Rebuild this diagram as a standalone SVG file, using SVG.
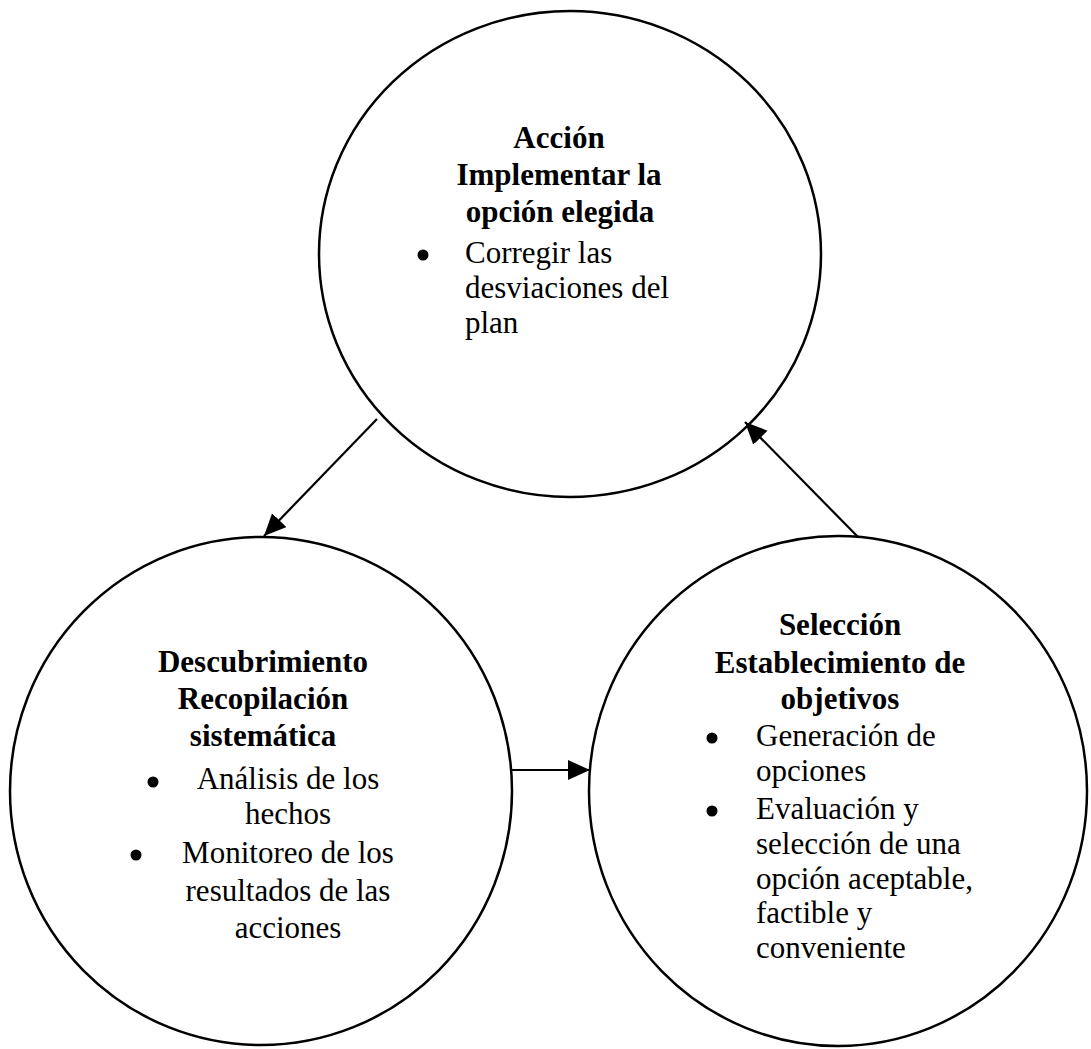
<svg xmlns="http://www.w3.org/2000/svg" width="1091" height="1049" viewBox="0 0 1091 1049">
<style>
.node{fill:#fff;stroke:#000;stroke-width:2.5}
.t{font-family:"Liberation Serif","Times New Roman",serif;font-size:31px;fill:#000}
.b{font-weight:bold;text-anchor:middle}
.c{text-anchor:middle}
.bul{fill:#000}
.conn{stroke:#000;stroke-width:2.2;fill:none;marker-end:url(#ah)}
</style>
<defs>
<marker id="ah" markerUnits="userSpaceOnUse" markerWidth="24" markerHeight="22" refX="22" refY="10" orient="auto">
<path d="M0,0 L22,10 L0,20 z" fill="#000"/>
</marker>
</defs>
<rect width="1091" height="1049" fill="#fff"/>
<g id="node-accion">
<ellipse class="node" cx="570" cy="254" rx="251" ry="243"/>
<text class="t b" x="559" y="148">Acción</text>
<text class="t b" x="559" y="185">Implementar la</text>
<text class="t b" x="560" y="222">opción elegida</text>
<circle class="bul" cx="423" cy="255" r="5.5"/>
<text class="t" x="465" y="263">Corregir las</text>
<text class="t" x="465" y="298">desviaciones del</text>
<text class="t" x="465" y="333">plan</text>
</g>
<g id="node-descubrimiento">
<ellipse class="node" cx="261" cy="791" rx="251" ry="254"/>
<text class="t b" x="263" y="672">Descubrimiento</text>
<text class="t b" x="263" y="709">Recopilación</text>
<text class="t b" x="263" y="746">sistemática</text>
<circle class="bul" cx="153" cy="782" r="5.5"/>
<text class="t c" x="288" y="789">Análisis de los</text>
<text class="t c" x="288" y="824">hechos</text>
<circle class="bul" cx="136" cy="855" r="5.5"/>
<text class="t c" x="288" y="863">Monitoreo de los</text>
<text class="t c" x="288" y="901">resultados de las</text>
<text class="t c" x="288" y="938">acciones</text>
</g>
<g id="node-seleccion">
<ellipse class="node" cx="838" cy="791" rx="249" ry="255"/>
<text class="t b" x="840" y="635">Selección</text>
<text class="t b" x="840" y="673">Establecimiento de</text>
<text class="t b" x="840" y="709">objetivos</text>
<circle class="bul" cx="712" cy="738" r="5.5"/>
<text class="t" x="756" y="746">Generación de</text>
<text class="t" x="756" y="781">opciones</text>
<circle class="bul" cx="712" cy="811" r="5.5"/>
<text class="t" x="756" y="819">Evaluación y</text>
<text class="t" x="756" y="854">selección de una</text>
<text class="t" x="756" y="889">opción aceptable,</text>
<text class="t" x="756" y="923">factible y</text>
<text class="t" x="756" y="958">conveniente</text>
</g>
<g id="connectors">
<line class="conn" x1="377" y1="419" x2="264" y2="536"/>
<line class="conn" x1="512" y1="770" x2="590" y2="770"/>
<line class="conn" x1="858" y1="537" x2="745" y2="422"/>
</g>
</svg>
